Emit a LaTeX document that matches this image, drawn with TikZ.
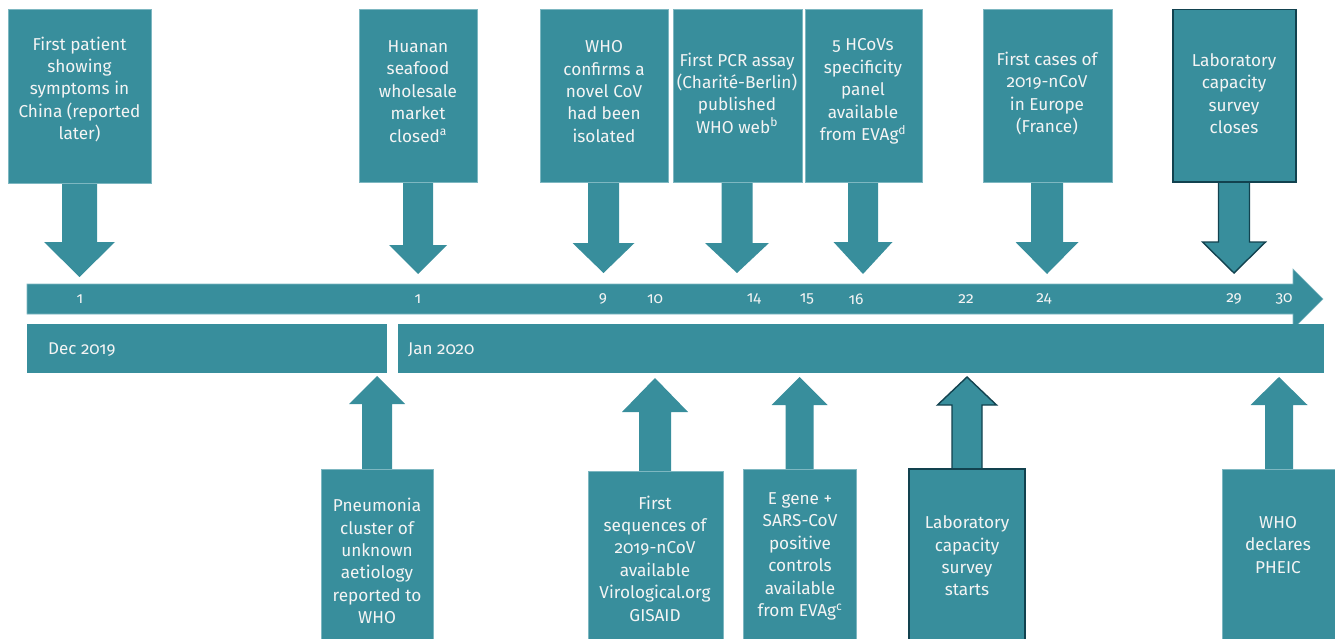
\documentclass[tikz,border=0pt]{standalone}
\usepackage{fontspec}
\setmainfont{Fira Sans}[Numbers=OldStyle,RawFeature={+onum}]
\usetikzlibrary{calc}
\definecolor{teal1}{HTML}{388E9C}
\definecolor{edge1}{HTML}{7DB7C1}
\definecolor{dark1}{HTML}{12424F}
\definecolor{txt}{HTML}{F4F4F4}
\tikzset{
  box/.style={fill=teal1, draw=edge1, line width=0.6pt, inner sep=0pt, outer sep=0pt, anchor=north west},
  darkbox/.style={box, draw=dark1, line width=1.4pt},
  lbl/.style={text=txt, align=center, font=\fontsize{17.2}{22.4}\selectfont, inner sep=0pt},
  num/.style={text=txt, font=\fontsize{15.5}{18}\selectfont, inner sep=0pt},
  mon/.style={text=txt, font=\fontsize{17}{18}\selectfont, inner sep=0pt, anchor=west},
  blk/.style={fill=teal1},
  darkblk/.style={fill=teal1, draw=dark1, line width=1.4pt, line join=miter},
}
% #1 style, #2 box anchor, #3 tip, #4 half shaft, #5 half head, #6 head length (negative for up arrows)
\newcommand\blkarrow[6]{%
  \path[#1] ($(#2 -| #3)+(-#4,0)$) -- ($(#3)+(-#4,{-(#6)})$) -- ($(#3)+(-#5,{-(#6)})$) -- (#3)
    -- ($(#3)+(#5,{-(#6)})$) -- ($(#3)+(#4,{-(#6)})$) -- ($(#2 -| #3)+(#4,0)$) -- cycle;}
\begin{document}
\begin{tikzpicture}[x=1pt,y=-1pt]
\useasboundingbox (0,0) rectangle (1335,639);
% timeline arrow
\path[fill=teal1, draw=edge1, line width=0.6pt] (27,284) -- (1293,284) -- (1293,269) -- (1323,299) -- (1293,329) -- (1293,314) -- (27,314) -- cycle;
\node[num] (n1) at (80,299) {1};
\node[num] (n2) at (418,299) {1};
\node[num] (n3) at (603,299) {9};
\node[num] (n4) at (655,299) {10};
\node[num] (n5) at (754,299) {14};
\node[num] (n6) at (807,299) {15};
\node[num] (n7) at (856,299) {16};
\node[num] (n8) at (966,299) {22};
\node[num] (n9) at (1044,299) {24};
\node[num] (n10) at (1234,299) {29};
\node[num] (n11) at (1284,299) {30};
% month bars
\node[box, draw=none, minimum width=359.5, minimum height=48.7] (dec) at (27,324) {};
\node[box, draw=none, minimum width=926, minimum height=48.7] (jan) at (398,324) {};
\node[mon] (dect) at (48,350) {Dec 2019};
\node[mon] (jant) at (408,350) {Jan 2020};
% top arrows
\coordinate (t1) at (79.5,277);
\coordinate (t2) at (418,274);
\coordinate (t3) at (603.5,273);
\coordinate (t4) at (737,273);
\coordinate (t5) at (863,274);
\coordinate (t6) at (1047,274);
\coordinate (t7) at (1234,273);
\coordinate (b1s) at (79.5,183);
\blkarrow{blk}{b1s}{t1}{17.5}{35.5}{35}
\coordinate (b2s) at (418,182);
\blkarrow{blk}{b2s}{t2}{15}{29}{29}
\coordinate (b3s) at (604,182);
\blkarrow{blk}{b3s}{t3}{15.5}{31}{30}
\coordinate (b4s) at (737,182);
\blkarrow{blk}{b4s}{t4}{15.5}{32}{30}
\coordinate (b5s) at (863,182);
\blkarrow{blk}{b5s}{t5}{15}{29.5}{32}
\coordinate (b6s) at (1047,182);
\blkarrow{blk}{b6s}{t6}{16}{31.5}{32}
\coordinate (b7s) at (1234,182);
\blkarrow{darkblk}{b7s}{t7}{15.5}{31.5}{31}
% top boxes
\node[box, minimum width=143, minimum height=173.5] (b1) at (8,9.5) {};
\node[box, minimum width=118, minimum height=172.5] (b2) at (359,9.5) {};
\node[box, minimum width=128, minimum height=172.5] (b3) at (540,9.5) {};
\node[box, minimum width=129, minimum height=172.5] (b4) at (673,9.5) {};
\node[box, minimum width=117, minimum height=172.5] (b5) at (805,9.5) {};
\node[box, minimum width=129, minimum height=172.5] (b6) at (983,9.5) {};
\node[darkbox, minimum width=123, minimum height=172.5] (b7) at (1173,9.5) {};
\node[lbl] (l1) at (79.5,89.5) {First patient\\showing\\symptoms in\\China (reported\\later)};
\node[lbl] (l2) at (418,91.5) {Huanan\\seafood\\wholesale\\market\\closed\textsuperscript{a}};
\node[lbl] (l3) at (604,91.5) {WHO\\confirms a\\novel CoV\\had been\\isolated};
\node[lbl] (l4) at (737,93) {First PCR assay\\(Charité-Berlin)\\published\\WHO web\textsuperscript{b}};
\node[lbl] (l5) at (863,91.5) {5 HCoVs\\specificity\\panel\\available\\from EVAg\textsuperscript{d}};
\node[lbl] (l6) at (1047,93.5) {First cases of\\2019-nCoV\\in Europe\\(France)};
\node[lbl] (l7) at (1234,93.5) {Laboratory\\capacity\\survey\\closes};
% bottom arrows
\coordinate (u1) at (377,376);
\coordinate (u2) at (655,378);
\coordinate (u3) at (799.5,377);
\coordinate (u4) at (967,377);
\coordinate (u5) at (1279,377);
\coordinate (c1n) at (377,469);
\blkarrow{blk}{c1n}{u1}{15}{28}{-28}
\coordinate (c2n) at (655,471);
\blkarrow{blk}{c2n}{u2}{16}{33}{-34}
\coordinate (c3n) at (800,469);
\blkarrow{blk}{c3n}{u3}{14}{28}{-28}
\coordinate (c4n) at (967,469);
\blkarrow{darkblk}{c4n}{u4}{15}{29.5}{-28}
\coordinate (c5n) at (1279,469);
\blkarrow{blk}{c5n}{u5}{14}{28.5}{-28}
% bottom boxes
\node[box, minimum width=112, minimum height=175] (c1) at (321,469) {};
\node[box, minimum width=135, minimum height=175] (c2) at (588,471) {};
\node[box, minimum width=113, minimum height=175] (c3) at (743.5,469) {};
\node[darkbox, minimum width=116, minimum height=175] (c4) at (909,469) {};
\node[box, minimum width=120, minimum height=175] (c5) at (1222,469) {};
\node[lbl] (m1) at (377,561) {Pneumonia\\cluster of\\unknown\\aetiology\\reported to\\WHO};
\node[lbl] (m2) at (655,558.5) {First\\sequences of\\2019-nCoV\\available\\Virological.org\\GISAID};
\node[lbl] (m3) at (800,556.5) {E gene +\\SARS-CoV\\positive\\controls\\available\\from EVAg\textsuperscript{c}};
\node[lbl] (m4) at (967,556) {Laboratory\\capacity\\survey\\starts};
\node[lbl] (m5) at (1278,545) {WHO\\declares\\PHEIC};
\end{tikzpicture}
\end{document}
